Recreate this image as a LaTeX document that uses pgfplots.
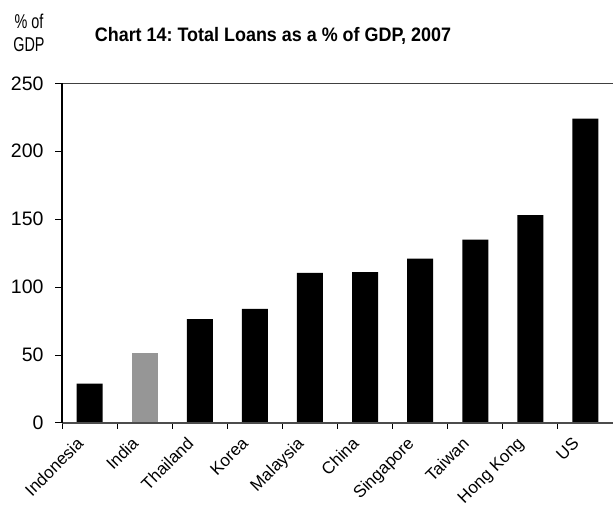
\documentclass[border=0pt]{standalone}
\usepackage{fontspec}
\setmainfont{Liberation Sans}
\newfontfamily\titlefont[FakeStretch=0.92]{Liberation Sans}
\newfontfamily\condfont[FakeStretch=0.72]{Liberation Sans}
\usepackage{pgfplots}
\pgfplotsset{compat=1.18}
\frenchspacing
\begin{document}
\begin{tikzpicture}[x=1pt,y=1pt]
\useasboundingbox (0,0) rectangle (613,510);
\begin{axis}[
  at={(62pt,87pt)}, anchor=south west,
  scale only axis, width=551pt, height=339.7pt,
  xmin=-0.5, xmax=9.5, ymin=0, ymax=250,
  ytick={0,50,...,250},
  xtick={0,...,9},
  xticklabels={Indonesia,India,Thailand,Korea,Malaysia,China,Singapore,Taiwan,Hong Kong,US},
  major x tick style={draw=none},
  minor xtick={-0.5,0.5,...,9.5},
  minor x tick style={black, line width=1pt},
  minor tick length=6pt,
  major tick length=7pt,
  tick align=outside,
  y tick style={black, line width=1pt},
  xtick pos=bottom, ytick pos=left,
  axis line style={draw=none},
  /pgf/number format/assume math mode=true,
  yticklabel style={font=\fontsize{19.5}{21}\selectfont, xshift=-8pt},
  xticklabel style={font=\fontsize{17}{19}\selectfont, xshift=-14pt, yshift=-4.5pt, rotate=45, anchor=north east, inner sep=1pt},
  ybar, bar width=26pt, bar shift=0pt,
  clip=false,
]
\addplot[fill=black, draw=none, bar shift=0pt] coordinates {(0,29) (2,76.5) (3,84) (4,110.5) (5,111) (6,121) (7,135) (8,153) (9,224)};
\addplot[fill={rgb,255:red,150;green,150;blue,150}, draw=none, bar shift=0pt] coordinates {(1,51.5)};
\draw[black!75, line width=1.5pt] (rel axis cs:0,1) -- (rel axis cs:1,1);
\draw[black!20, line width=0.8pt] (rel axis cs:1,0) -- (rel axis cs:1,1);
\draw[black!70, line width=1.6pt] (rel axis cs:0,0) -- (rel axis cs:1,0);
\draw[black, line width=1.6pt] (rel axis cs:0,0) -- (rel axis cs:0,1);
\end{axis}
\node[font=\titlefont\bfseries\fontsize{19.5}{21}\selectfont] at (273,474) {Chart 14: Total Loans as a \% of GDP, 2007};
\node[font=\condfont\fontsize{20}{22.5}\selectfont, align=center] at (29,477) {\% of\\GDP};
\end{tikzpicture}
\end{document}
